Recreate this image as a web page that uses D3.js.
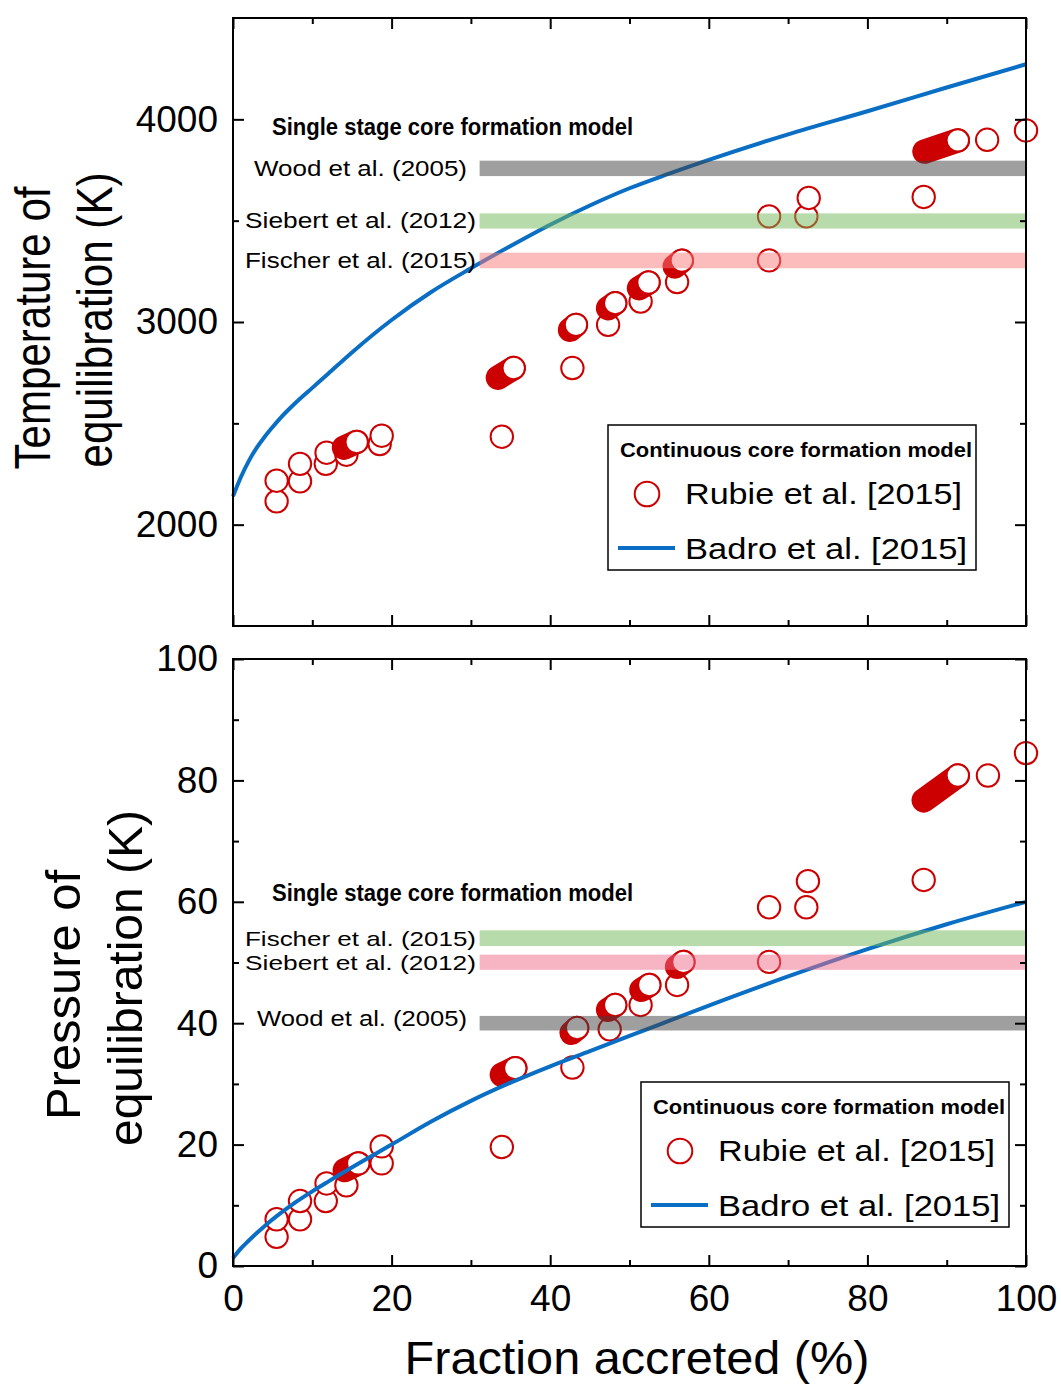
<!DOCTYPE html>
<html>
<head>
<meta charset="utf-8">
<script src="https://cdn.jsdelivr.net/npm/d3@7"></script>
<style>
  html, body { margin: 0; padding: 0; background: #fff; }
  svg { display: block; font-family: "Liberation Sans", Arial, sans-serif; }
</style>
</head>
<body>
<svg id="chart" width="1061" height="1385"></svg>
<script>
// ---- axis ticks ----
const xMajorTicks = [0, 20, 40, 60, 80, 100];
const xMinorTicks = [10, 30, 50, 70, 90];
const tempMajorTicks = [2000, 3000, 4000];
const tempMinorTicks = [2500, 3500];
const presMajorTicks = [0, 20, 40, 60, 80, 100];
const presMinorTicks = [10, 30, 50, 70, 90];

// ---- Rubie et al. [2015]: temperature of equilibration (K) vs fraction accreted (%) ----
const rubieTempPoints = [
  [5.5, 2115], [5.5, 2217], [8.45, 2214], [8.45, 2300], [11.7, 2300], [11.8, 2355],
  [14.3, 2345], [18.5, 2398], [18.75, 2439], [33.9, 2434], [42.8, 2773], [47.3, 2986],
  [51.4, 3101], [56.0, 3197], [67.6, 3304], [67.6, 3521], [72.3, 3521], [72.6, 3612],
  [87.1, 3617], [95.1, 3899], [100, 3945]
];
// dense accretion runs: [start x, start T, end x, end T]
const rubieTempRuns = [
  [14.0, 2380, 15.6, 2408],
  [33.4, 2725, 35.4, 2773],
  [42.5, 2961, 43.25, 2986],
  [47.3, 3068, 48.2, 3093],
  [51.2, 3167, 52.4, 3195],
  [55.7, 3274, 56.6, 3303],
  [87.2, 3841, 91.4, 3896]
];

// ---- Rubie et al. [2015]: pressure of equilibration vs fraction accreted (%) ----
const rubiePresPoints = [
  [5.5, 4.8], [5.5, 7.7], [8.45, 7.7], [8.45, 10.7], [11.7, 10.7], [11.8, 13.6],
  [14.3, 13.3], [18.75, 16.9], [18.75, 19.7], [33.9, 19.6], [42.8, 32.7], [47.5, 39.0],
  [51.4, 43.0], [56.0, 46.3], [67.6, 50.1], [67.6, 59.1], [72.3, 59.1], [72.5, 63.4],
  [87.1, 63.6], [95.2, 80.8], [100, 84.5]
];
const rubiePresRuns = [
  [14.1, 15.8, 15.8, 16.9],
  [33.9, 31.5, 35.6, 32.6],
  [42.7, 38.4, 43.4, 39.2],
  [47.3, 42.2, 48.2, 43.0],
  [51.5, 45.5, 52.5, 46.3],
  [56.0, 49.3, 56.8, 50.1],
  [87.1, 76.7, 91.4, 80.8]
];

// ---- Badro et al. [2015] continuous model curves ----
const badroTempX = [0, 1, 2, 3, 4, 5, 6, 8, 10, 12, 15, 20, 25, 30, 35, 40, 45, 50, 55, 60, 70, 80, 90, 100];
const badroTempY = [2140, 2235, 2315, 2380, 2434, 2482, 2527, 2605, 2675, 2745, 2850, 3010, 3148, 3265, 3375, 3480, 3575, 3660, 3732, 3800, 3926, 4040, 4157, 4272];
const badroPresX = [0, 1, 2, 4, 6, 8, 10, 12, 16, 20, 25, 30, 35, 40, 45, 50, 60, 70, 80, 90, 100];
const badroPresY = [1.3, 2.9, 4.2, 6.6, 8.7, 10.6, 12.3, 13.9, 17.0, 20.0, 23.8, 27.2, 30.2, 32.9, 35.4, 37.9, 42.9, 47.7, 52.2, 56.3, 60.0];

// ---- single stage core formation model: ranges ----
const tempBandNames = ["Wood et al. (2005)", "Siebert et al. (2012)", "Fischer et al. (2015)"];
const tempBandLow = [3720, 3461, 3265];
const tempBandHigh = [3796, 3536, 3342];
const presBandNames = ["Fischer et al. (2015)", "Siebert et al. (2012)", "Wood et al. (2005)"];
const presBandLow = [52.7, 48.8, 38.8];
const presBandHigh = [55.3, 51.3, 41.2];
const bandStartX = 31.1;

// ---- styling ----
const RED = "#cc0000";
const BLUE = "#0a6fc4";
const R = 11.2;
const tempBandColors = ["rgba(64,64,64,0.5)", "rgba(112,184,88,0.5)", "rgba(250,122,122,0.5)"];
const presBandColors = ["rgba(112,184,88,0.5)", "rgba(240,105,135,0.5)", "rgba(64,64,64,0.5)"];

const svg = d3.select("#chart");
const x = d3.scaleLinear().domain([0, 100]).range([233, 1026]);
const yT = d3.scaleLinear().domain([1500, 4500]).range([626, 18]);
const yP = d3.scaleLinear().domain([0, 100]).range([1266, 659]);

function styleAxis(g, fontSize) {
  g.select(".domain").remove();
  g.selectAll(".tick line").attr("stroke", "#000").attr("stroke-width", 2);
  g.selectAll(".tick text").attr("fill", "#000").attr("font-size", fontSize)
    .attr("font-family", "'Liberation Sans', Arial, sans-serif");
}

function drawAxes(y, yMajor, yMinor, showXLabels) {
  const [yb, yt] = y.range();
  const [xl, xr] = x.range();
  const g = svg.append("g");
  const fmt = d3.format("d");
  // bottom
  g.append("g").attr("transform", `translate(0,${yb})`)
    .call(d3.axisBottom(x).tickValues(xMajorTicks).tickSize(-11).tickPadding(19)
      .tickFormat(showXLabels ? fmt : () => ""))
    .call(a => styleAxis(a, 37));
  g.append("g").attr("transform", `translate(0,${yb})`)
    .call(d3.axisBottom(x).tickValues(xMinorTicks).tickSize(-6).tickFormat(() => ""))
    .call(a => styleAxis(a, 37));
  // top
  g.append("g").attr("transform", `translate(0,${yt})`)
    .call(d3.axisTop(x).tickValues(xMajorTicks).tickSize(-11).tickFormat(() => ""))
    .call(a => styleAxis(a, 37));
  g.append("g").attr("transform", `translate(0,${yt})`)
    .call(d3.axisTop(x).tickValues(xMinorTicks).tickSize(-6).tickFormat(() => ""))
    .call(a => styleAxis(a, 37));
  // left
  g.append("g").attr("transform", `translate(${xl},0)`)
    .call(d3.axisLeft(y).tickValues(yMajor).tickSize(-11).tickPadding(15).tickFormat(fmt))
    .call(a => styleAxis(a, 37));
  g.append("g").attr("transform", `translate(${xl},0)`)
    .call(d3.axisLeft(y).tickValues(yMinor).tickSize(-6).tickFormat(() => ""))
    .call(a => styleAxis(a, 37));
  // right
  g.append("g").attr("transform", `translate(${xr},0)`)
    .call(d3.axisRight(y).tickValues(yMajor).tickSize(-11).tickFormat(() => ""))
    .call(a => styleAxis(a, 37));
  g.append("g").attr("transform", `translate(${xr},0)`)
    .call(d3.axisRight(y).tickValues(yMinor).tickSize(-6).tickFormat(() => ""))
    .call(a => styleAxis(a, 37));
  // frame
  g.append("rect").attr("x", xl).attr("y", yt).attr("width", xr - xl).attr("height", yb - yt)
    .attr("fill", "none").attr("stroke", "#000").attr("stroke-width", 2);
}

function drawPanel(y, points, runs, curveX, curveY, bandLow, bandHigh, bandColors) {
  const g = svg.append("g");
  // open circles
  g.selectAll("circle.pt").data(points).join("circle")
    .attr("cx", d => x(d[0])).attr("cy", d => y(d[1])).attr("r", R)
    .attr("fill", "#fff").attr("stroke", RED).attr("stroke-width", 2);
  // dense runs: trail of overlapping markers ending with an open one
  runs.forEach(r => {
    g.append("line")
      .attr("x1", x(r[0])).attr("y1", y(r[1])).attr("x2", x(r[2])).attr("y2", y(r[3]))
      .attr("stroke", RED).attr("stroke-width", 2 * R + 2).attr("stroke-linecap", "round");
    g.append("circle").attr("cx", x(r[2])).attr("cy", y(r[3])).attr("r", R)
      .attr("fill", "#fff").attr("stroke", RED).attr("stroke-width", 2);
  });
  // model curve
  const line = d3.line().x(d => x(d[0])).y(d => y(d[1])).curve(d3.curveMonotoneX);
  g.append("path").datum(curveX.map((v, i) => [v, curveY[i]]))
    .attr("d", line).attr("fill", "none").attr("stroke", BLUE).attr("stroke-width", 4);
  // single-stage ranges
  g.selectAll("rect.band").data(bandLow.map((lo, i) => [lo, bandHigh[i], bandColors[i]])).join("rect")
    .attr("x", x(bandStartX)).attr("width", x(100) - x(bandStartX))
    .attr("y", d => y(d[1])).attr("height", d => y(d[0]) - y(d[1]))
    .attr("fill", d => d[2]);
}

function drawText(txt, tx, ty, size, opts = {}) {
  const t = svg.append("text").attr("x", tx).attr("y", ty).attr("font-size", size)
    .attr("fill", "#000").text(txt);
  if (opts.bold) t.attr("font-weight", "bold");
  if (opts.len) t.attr("textLength", opts.len).attr("lengthAdjust", "spacingAndGlyphs");
  if (opts.anchor) t.attr("text-anchor", opts.anchor);
  return t;
}

function drawRotated(txt, cy, baseX, size, len) {
  svg.append("text")
    .attr("transform", `translate(${baseX},${cy}) rotate(-90)`)
    .attr("text-anchor", "middle").attr("font-size", size).attr("fill", "#000")
    .attr("textLength", len).attr("lengthAdjust", "spacingAndGlyphs")
    .text(txt);
}

function drawLegend(ox, oy) {
  const g = svg.append("g").attr("transform", `translate(${ox},${oy})`);
  g.append("rect").attr("x", 0).attr("y", 0).attr("width", 368).attr("height", 145)
    .attr("fill", "#fff").attr("stroke", "#000").attr("stroke-width", 1.5);
  g.append("text").attr("x", 12).attr("y", 32).attr("font-size", 20).attr("font-weight", "bold")
    .attr("textLength", 352).attr("lengthAdjust", "spacingAndGlyphs").text("Continuous core formation model");
  g.append("circle").attr("cx", 39).attr("cy", 69).attr("r", 12.3)
    .attr("fill", "#fff").attr("stroke", RED).attr("stroke-width", 2);
  g.append("text").attr("x", 77).attr("y", 79).attr("font-size", 30)
    .attr("textLength", 277).attr("lengthAdjust", "spacingAndGlyphs").text("Rubie et al. [2015]");
  g.append("line").attr("x1", 10).attr("x2", 67).attr("y1", 123).attr("y2", 123)
    .attr("stroke", BLUE).attr("stroke-width", 4);
  g.append("text").attr("x", 77).attr("y", 134).attr("font-size", 30)
    .attr("textLength", 282).attr("lengthAdjust", "spacingAndGlyphs").text("Badro et al. [2015]");
}

// ---- temperature panel ----
drawPanel(yT, rubieTempPoints, rubieTempRuns, badroTempX, badroTempY, tempBandLow, tempBandHigh, tempBandColors);
drawAxes(yT, tempMajorTicks, tempMinorTicks, false);
drawText("Single stage core formation model", 272, 135, 23.5, { bold: true, len: 361 });
drawText(tempBandNames[0], 254, 176, 22, { len: 213 });
drawText(tempBandNames[1], 245, 228, 22, { len: 231 });
drawText(tempBandNames[2], 245, 268, 22, { len: 231 });
drawLegend(608, 425);
drawRotated("Temperature of", 328, 50, 50, 283);
drawRotated("equilibration (K)", 320, 112, 50, 295);

// ---- pressure panel ----
drawPanel(yP, rubiePresPoints, rubiePresRuns, badroPresX, badroPresY, presBandLow, presBandHigh, presBandColors);
drawAxes(yP, presMajorTicks, presMinorTicks, true);
drawText("Single stage core formation model", 272, 901, 23.5, { bold: true, len: 361 });
drawText(presBandNames[0], 245, 946, 21, { len: 231 });
drawText(presBandNames[1], 245, 970, 21, { len: 231 });
drawText(presBandNames[2], 257, 1026, 22, { len: 210 });
drawLegend(641, 1082);
drawRotated("Pressure of", 995, 80, 49, 250);
drawRotated("equilibration (K)", 978, 142, 49, 336);

// ---- shared x-axis title ----
drawText("Fraction accreted (%)", 637, 1374, 47, { anchor: "middle", len: 465 });
</script>
</body>
</html>
